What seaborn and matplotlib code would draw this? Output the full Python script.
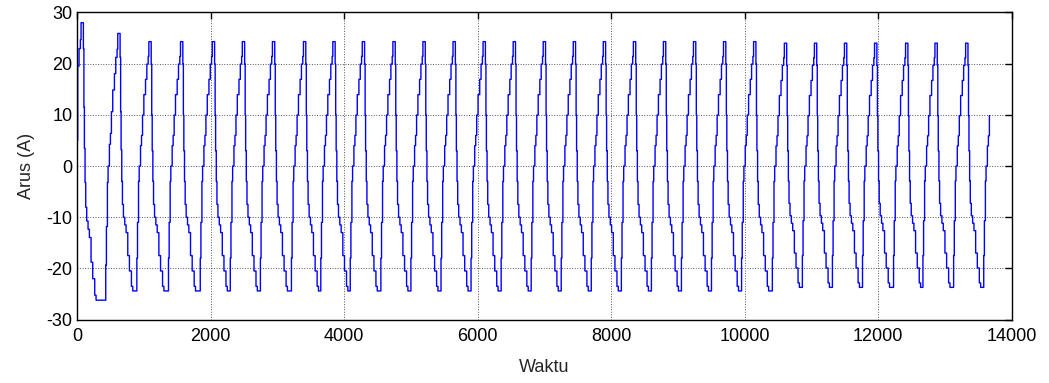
import numpy as np
import pandas as pd
import matplotlib
matplotlib.use("Agg")
import matplotlib.pyplot as plt
import seaborn as sns

# Posisi puncak tiap siklus (sampel) dan nilai puncak/lembah (A)
peak_t = [71, 621, 1087, 1561, 2037, 2487, 2938, 3403, 3843, 4284, 4743, 5193,
          5644, 6094, 6545, 6995, 7445, 7895, 8346, 8796, 9246, 9696, 10147,
          10608, 11058, 11508, 11959, 12424, 12864, 13324, 13775]
peak_v = [28.0, 25.9] + [24.3] * 21 + [24.0] * 8
trough_v = [-26.2] + [-24.4] * 22 + [-23.7] * 8

# Bentuk tangga satu siklus (offset sampel terhadap puncak, nilai untuk amplitudo 24.4)
ref_amp = 24.4
rise_off = [-195, -185, -170, -160, -140, -125, -110, -90, -65, -45, -25, -15]
rise_lvl = [-18, -11, -3, 0, 4, 6, 10, 14, 17, 20, 21.5, 24.4]
fall_off = [20, 28, 35, 45, 55, 70, 90, 110, 135, 160, 190, 210]
fall_lvl = [20, 10, 3, -3, -7.5, -10, -11.5, -13, -17.5, -20.5, -23.5, -24.4]

start_t, start_v = 0, 5.0
end_t = 13670

t = [start_t]
v = [start_v]
for k, tp in enumerate(peak_t):
    tr_prev = trough_v[k - 1] if k > 0 else trough_v[0]
    for off, lvl in zip(rise_off, rise_lvl):
        tt = tp + off
        if tt <= t[-1]:
            continue
        s = peak_v[k] / ref_amp if lvl > 0 else abs(tr_prev) / ref_amp
        t.append(tt)
        v.append(lvl * s)
    for off, lvl in zip(fall_off, fall_lvl):
        tt = tp + off
        if tt <= t[-1]:
            continue
        s = peak_v[k] / ref_amp if lvl > 0 else abs(trough_v[k]) / ref_amp
        t.append(tt)
        v.append(lvl * s)

df = pd.DataFrame({"Waktu": t, "Arus": v})
df = df[df["Waktu"] < end_t]
df = pd.concat([df, pd.DataFrame({"Waktu": [end_t], "Arus": [df["Arus"].iloc[-1]]})])

sns.set_style("white")
plt.rcParams["font.family"] = ["Liberation Sans", "DejaVu Sans"]
plt.rcParams["axes.unicode_minus"] = False

fig = plt.figure(figsize=(10.49, 3.83), dpi=100)
ax = fig.add_axes([0.0737, 0.1655, 0.8908, 0.802])

sns.lineplot(data=df, x="Waktu", y="Arus", ax=ax, color="#0000FF", linewidth=1.0,
             drawstyle="steps-post", estimator=None, sort=False)

ax.set_xlim(0, 14000)
ax.set_ylim(-30, 30)
ax.set_xticks(np.arange(0, 14001, 2000))
ax.set_yticks(np.arange(-30, 31, 10))
ax.set_xlabel("Waktu", fontsize=13, labelpad=10)
ax.set_ylabel("Arus (A)", fontsize=13, labelpad=8)
ax.tick_params(direction="in", top=True, right=True, length=5, width=1,
               labelsize=13, colors="black")
ax.tick_params(axis="x", pad=6)
ax.grid(True, linestyle=":", color="#555555", linewidth=0.7)
for sp in ax.spines.values():
    sp.set_visible(True)
    sp.set_color("black")
    sp.set_linewidth(1.0)

fig.savefig("out.png", dpi=100)
plt.close()
